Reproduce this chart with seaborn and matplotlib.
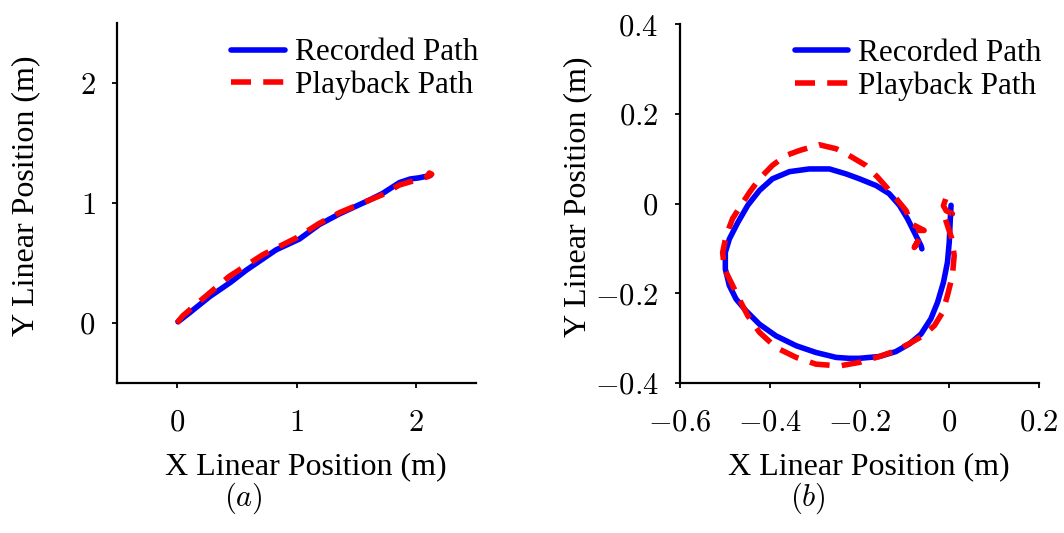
import numpy as np
import pandas as pd
import matplotlib
matplotlib.use("Agg")
import matplotlib.pyplot as plt
import seaborn as sns

# ---- data: panel (a) ----
rec_a_x = [0.01, 0.10, 0.275, 0.45, 0.58, 0.83, 1.025, 1.19, 1.36, 1.61, 1.72, 1.86, 1.95, 2.025, 2.12]
rec_a_y = [0.01, 0.08, 0.22, 0.34, 0.44, 0.61, 0.70, 0.82, 0.91, 1.025, 1.08, 1.17, 1.20, 1.21, 1.23]
pb_a_x = [0.0, 0.05, 0.19, 0.44, 0.72, 1.0, 1.19, 1.36, 1.60, 1.72, 1.86, 2.03, 2.10, 2.13, 2.11, 2.09]
pb_a_y = [0.0, 0.06, 0.18, 0.39, 0.57, 0.71, 0.83, 0.92, 1.02, 1.07, 1.15, 1.20, 1.22, 1.24, 1.25, 1.22]

# ---- data: panel (b) ----
rec_b_x = [0.004, 0.002, 0.0, -0.004, -0.013, -0.026, -0.041, -0.063, -0.089, -0.119,
           -0.156, -0.200, -0.223, -0.252, -0.297, -0.341, -0.386, -0.423, -0.453, -0.475,
           -0.490, -0.499, -0.499, -0.490, -0.471, -0.449, -0.423, -0.394, -0.356, -0.312,
           -0.267, -0.230, -0.200, -0.163, -0.134, -0.111, -0.093, -0.078, -0.063, -0.061]
rec_b_y = [-0.004, -0.042, -0.086, -0.131, -0.176, -0.220, -0.257, -0.291, -0.313, -0.330,
           -0.341, -0.345, -0.345, -0.343, -0.332, -0.317, -0.295, -0.269, -0.239, -0.213,
           -0.183, -0.146, -0.109, -0.079, -0.042, -0.004, 0.029, 0.055, 0.071, 0.077,
           0.077, 0.066, 0.055, 0.040, 0.022, -0.004, -0.034, -0.064, -0.094, -0.101]
pb_b_x = [-0.008, -0.013, -0.007, 0.007, -0.011, -0.004, 0.006, 0.011, 0.007, -0.004,
          -0.015, -0.033, -0.059, -0.085, -0.119, -0.156, -0.200, -0.245, -0.297, -0.341,
          -0.386, -0.423, -0.449, -0.468, -0.486, -0.501, -0.505, -0.497, -0.483, -0.464,
          -0.445, -0.423, -0.394, -0.364, -0.334, -0.290, -0.252, -0.230, -0.186, -0.160,
          -0.137, -0.115, -0.096, -0.085, -0.056, -0.078, -0.067, -0.078, -0.071]
pb_b_y = [0.010, -0.005, -0.016, -0.023, -0.027, -0.049, -0.079, -0.116, -0.161, -0.205,
          -0.243, -0.272, -0.295, -0.310, -0.328, -0.341, -0.354, -0.362, -0.358, -0.343,
          -0.321, -0.287, -0.250, -0.213, -0.176, -0.146, -0.109, -0.071, -0.034, -0.004,
          0.025, 0.055, 0.085, 0.107, 0.118, 0.131, 0.122, 0.111, 0.085, 0.059,
          0.033, 0.007, -0.016, -0.045, -0.060, -0.060, -0.079, -0.098, -0.086]

series_names = ["Recorded Path", "Playback Path"]
a_ticks = [0, 1, 2]
b_xticks = [-0.6, -0.4, -0.2, 0, 0.2]
b_yticks = [-0.4, -0.2, 0, 0.2, 0.4]

sns.set_style("white")
plt.rcParams["font.family"] = ["Liberation Serif", "DejaVu Serif"]
plt.rcParams["mathtext.fontset"] = "cm"
plt.rcParams["text.color"] = "black"
plt.rcParams["axes.labelcolor"] = "black"

LFS = 23
TFS = 22
fig = plt.figure(figsize=(10.64, 5.33), dpi=100)
axA = fig.add_axes([117/1064, 1-383/533, 359/1064, 360/533])
axB = fig.add_axes([680/1064, 1-383/533, 359/1064, 359/533])


def tlabel(v):
    return "$" + f"{v:g}" + "$"


def draw(ax, rx, ry, px, py, ylab_x):
    sns.lineplot(x=rx, y=ry, ax=ax, sort=False, estimator=None, color="#0000ff",
                 lw=4.0, label=series_names[0])
    sns.lineplot(x=px, y=py, ax=ax, sort=False, estimator=None, color="#ff0000",
                 lw=4.0, label=series_names[1])
    ax.lines[0].set_solid_capstyle("round")
    ax.lines[0].set_solid_joinstyle("round")
    ax.lines[1].set_dashes((3.6, 2.2))
    ax.lines[1].set_dash_capstyle("butt")
    ax.lines[1].set_dash_joinstyle("round")
    for s in ["top", "right"]:
        ax.spines[s].set_visible(False)
    for s in ["left", "bottom"]:
        ax.spines[s].set_linewidth(1.6)
        ax.spines[s].set_color("black")
    ax.tick_params(direction="out", length=3.5, width=1.3, labelsize=TFS,
                   bottom=True, left=True, colors="black")
    ax.tick_params(axis="x", pad=15)
    ax.tick_params(axis="y", pad=12)
    ax.set_xlabel("X Linear Position (m)", fontsize=LFS)
    ax.set_ylabel("Y Linear Position (m)", fontsize=LFS)
    ax.xaxis.set_label_coords(0.525, -0.192)
    ax.yaxis.set_label_coords(ylab_x, 0.52)
    leg = ax.legend(loc="upper right", bbox_to_anchor=(1 + 2/359, 0.957), frameon=False,
                    fontsize=22.5, handlelength=1.7, handletextpad=0.32,
                    labelspacing=0.1, borderaxespad=0.0, borderpad=0.0)
    for t in leg.get_texts():
        t.set_color("black")


draw(axA, rec_a_x, rec_a_y, pb_a_x, pb_a_y, (40-117)/359)
axA.set_xlim(-0.5, 2.5)
axA.set_ylim(-0.5, 2.5)
axA.set_xticks(a_ticks)
axA.set_yticks(a_ticks)
axA.set_xticklabels([tlabel(v) for v in a_ticks])
axA.set_yticklabels([tlabel(v) for v in a_ticks])

draw(axB, rec_b_x, rec_b_y, pb_b_x, pb_b_y, (592-680)/359)
axB.set_xlim(-0.6, 0.2)
axB.set_ylim(-0.4, 0.4)
axB.set_xticks(b_xticks)
axB.set_yticks(b_yticks)
axB.set_xticklabels([tlabel(v) for v in b_xticks])
axB.set_yticklabels([tlabel(v) for v in b_yticks])

fig.text(243/1064, 1-498/533, r"$(a)$", fontsize=TFS, ha="center", va="center")
fig.text(808/1064, 1-498/533, r"$(b)$", fontsize=TFS, ha="center", va="center")

fig.savefig("out.png", dpi=100)
